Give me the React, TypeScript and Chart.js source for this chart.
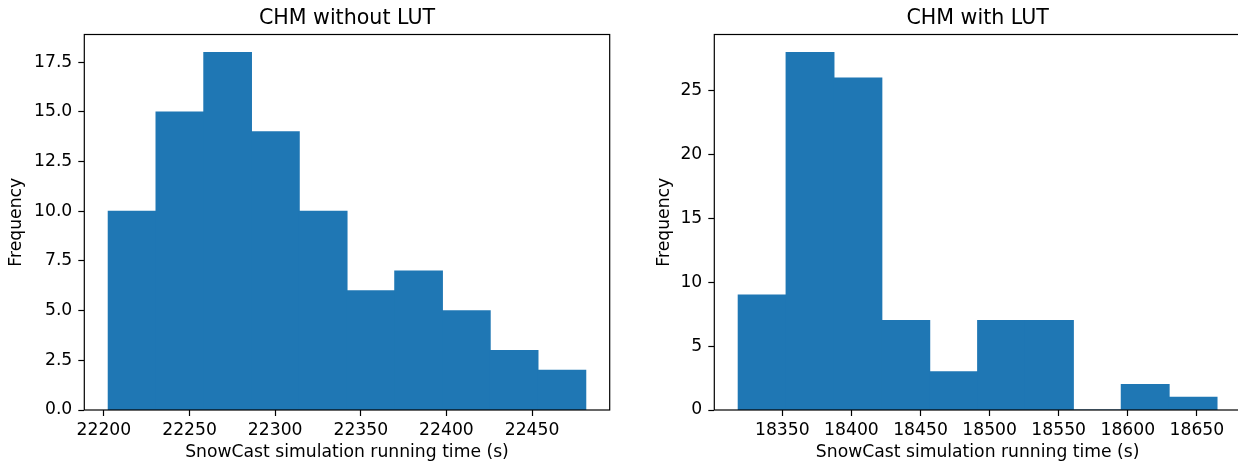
import React, { useEffect, useRef } from "react";
import { Chart, registerables } from "chart.js";

Chart.register(...registerables);

const FONT = "DejaVu Sans";
const TICK_SIZE = 17.2;
const TITLE_SIZE = 20.6;
const BAR_COLOR = "#1f77b4";

const leftTitle = "CHM without LUT";
const rightTitle = "CHM with LUT";
const xAxisLabel = "SnowCast simulation running time (s)";
const yAxisLabel = "Frequency";

const leftBinEdges = [22202.5, 22230.4, 22258.3, 22286.2, 22314.1, 22342.0, 22369.8, 22397.7, 22425.6, 22453.5, 22481.4];
const leftCounts = [10, 15, 18, 14, 10, 6, 7, 5, 3, 2];
const leftXTicks = [22200, 22250, 22300, 22350, 22400, 22450];
const leftYTicks = [0, 2.5, 5, 7.5, 10, 12.5, 15, 17.5];

const rightBinEdges = [18318.1, 18352.7, 18387.4, 18422.0, 18456.7, 18491.3, 18526.0, 18560.6, 18595.3, 18629.9, 18664.6];
const rightCounts = [9, 28, 26, 7, 3, 7, 7, 0, 2, 1];
const rightXTicks = [18350, 18400, 18450, 18500, 18550, 18600, 18650];
const rightYTicks = [0, 5, 10, 15, 20, 25];

const frameTitlePlugin = {
  id: "frameTitle",
  afterDraw(chart: any, _args: any, opts: any) {
    const { ctx, chartArea: a } = chart;
    ctx.save();
    ctx.strokeStyle = "#000";
    ctx.lineWidth = 1.2;
    ctx.strokeRect(a.left, a.top, a.right - a.left, a.bottom - a.top);
    ctx.fillStyle = "#000";
    ctx.font = `${TITLE_SIZE}px "${FONT}"`;
    ctx.textAlign = "center";
    ctx.textBaseline = "alphabetic";
    ctx.fillText(opts.text, (a.left + a.right) / 2, 24);
    ctx.restore();
  },
};

type HistProps = {
  edges: number[];
  counts: number[];
  xTicks: number[];
  yTicks: number[];
  yDecimals: number;
  title: string;
  left: number;
  yAxisWidth: number;
  padRight: number;
  yLabelPad: number;
};

const CANVAS_W = 625;
const CANVAS_H = 465;

function Histogram(p: HistProps) {
  const ref = useRef<HTMLCanvasElement | null>(null);
  useEffect(() => {
    if (!ref.current) return;
    const n = p.edges.length;
    const span = p.edges[n - 1] - p.edges[0];
    const data = p.counts.map((c, i) => ({ x: (p.edges[i] + p.edges[i + 1]) / 2, y: c }));
    const tickFont = { family: FONT, size: TICK_SIZE };
    const chart = new Chart(ref.current, {
      type: "bar",
      data: {
        datasets: [
          {
            data: data as any,
            backgroundColor: BAR_COLOR,
            borderWidth: 0,
            barPercentage: 1,
            categoryPercentage: 1,
            inflateAmount: 0.5,
          } as any,
        ],
      },
      options: {
        animation: false,
        responsive: false,
        devicePixelRatio: 1,
        layout: { padding: { left: 0, right: p.padRight, top: 34.5, bottom: 0 } },
        plugins: {
          legend: { display: false },
          tooltip: { enabled: false },
          title: { display: false },
          frameTitle: { text: p.title },
        } as any,
        scales: {
          x: {
            type: "linear",
            offset: false,
            min: p.edges[0] - 0.05 * span,
            max: p.edges[n - 1] + 0.05 * span,
            afterBuildTicks: (s: any) => {
              s.ticks = p.xTicks.map((v) => ({ value: v }));
            },
            afterFit: (s: any) => {
              s.height = 55;
              s.paddingLeft = 0;
              s.paddingRight = 0;
            },
            grid: {
              display: true,
              drawOnChartArea: false,
              drawTicks: true,
              tickLength: 6,
              tickColor: "#000",
              tickWidth: 1.2,
              offset: false,
            },
            border: { display: false },
            ticks: {
              color: "#000",
              font: tickFont,
              padding: 4,
              maxRotation: 0,
              autoSkip: false,
              callback: (v: any) => String(v),
            },
            title: {
              display: true,
              text: xAxisLabel,
              color: "#000",
              font: tickFont,
              padding: { top: 0, bottom: 1.7 },
            },
          } as any,
          y: {
            type: "linear",
            min: 0,
            max: Math.max(...p.counts) * 1.05,
            afterBuildTicks: (s: any) => {
              s.ticks = p.yTicks.map((v) => ({ value: v }));
            },
            afterFit: (s: any) => {
              s.width = p.yAxisWidth;
              s.paddingTop = 0;
              s.paddingBottom = 0;
            },
            grid: {
              display: true,
              drawOnChartArea: false,
              drawTicks: true,
              tickLength: 6,
              tickColor: "#000",
              tickWidth: 1.2,
            },
            border: { display: false },
            ticks: {
              color: "#000",
              font: tickFont,
              padding: 6,
              autoSkip: false,
              callback: (v: any) => Number(v).toFixed(p.yDecimals),
            },
            title: {
              display: true,
              text: yAxisLabel,
              color: "#000",
              font: tickFont,
              padding: { top: p.yLabelPad, bottom: 0 },
            },
          } as any,
        },
      },
      plugins: [frameTitlePlugin as any],
    });
    return () => chart.destroy();
  }, []);
  return (
    <canvas
      ref={ref}
      width={CANVAS_W}
      height={CANVAS_H}
      style={{ position: "absolute", left: p.left, top: 0, width: CANVAS_W, height: CANVAS_H }}
    />
  );
}

export default function App() {
  return (
    <div
      style={{
        position: "absolute",
        left: 0,
        top: 0,
        width: 1238,
        height: 465,
        overflow: "hidden",
        background: "#fff",
      }}
    >
      <Histogram
        edges={leftBinEdges}
        counts={leftCounts}
        xTicks={leftXTicks}
        yTicks={leftYTicks}
        yDecimals={1}
        title={leftTitle}
        left={0}
        yAxisWidth={84.3}
        padRight={15.3}
        yLabelPad={6.7}
      />
      <Histogram
        edges={rightBinEdges}
        counts={rightCounts}
        xTicks={rightXTicks}
        yTicks={rightYTicks}
        yDecimals={0}
        title={rightTitle}
        left={625}
        yAxisWidth={89.3}
        padRight={9}
        yLabelPad={29.7}
      />
    </div>
  );
}
